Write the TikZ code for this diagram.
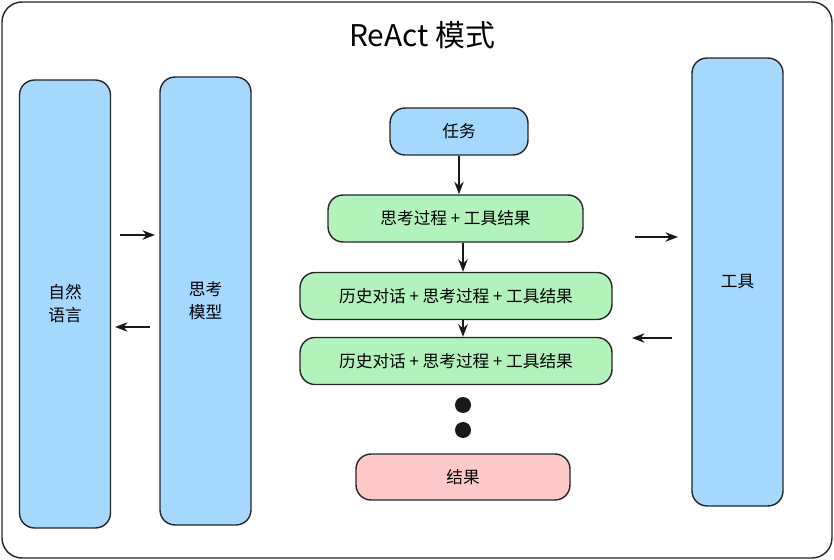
\documentclass[tikz,border=0pt]{standalone}
\usepackage{fontspec}
\setmainfont{Noto Sans CJK SC}
\usepackage{tikz}
\usetikzlibrary{positioning}
\usetikzlibrary{arrows.meta}
\definecolor{skyblue}{HTML}{A5D8FF}
\definecolor{mint}{HTML}{B2F2BB}
\definecolor{rose}{HTML}{FFC9C9}
\tikzset{
  box/.style     = { rectangle, draw=black!85, thick, rounded corners=3mm, inner sep=0pt, font=\fontsize{9.5}{13}\selectfont },
  column/.style  = { box, fill=skyblue, minimum width=1.82cm, minimum height=8.96cm, align=center },
  stage/.style   = { box, fill=mint, minimum height=0.94cm },
  flow/.style    = { -{Stealth[length=2.5mm]}, line width=1.5pt, black!90 },
}
\begin{document}
\begin{tikzpicture}[x=0.02cm,y=-0.02cm]
  \useasboundingbox (0,0) rectangle (834,560);
  \draw [thick,black!85,rounded corners=4mm] (2,2) rectangle (832,558);
  \node (title) at (422,35) {\fontsize{17}{20}\selectfont ReAct 模式};

  \node (lang)  [column] at (65,304)    {自然\\语言};
  \node (model) [column] at (205.5,301) {思考\\模型};
  \node (tool)  [column] at (737.5,282) {工具};

  \node (task)   [box,fill=skyblue,minimum width=2.76cm,minimum height=0.94cm] at (459,131.5) {任务};
  \node (stage1) [stage,minimum width=5.1cm]  at (455.5,218.5) {思考过程 + 工具结果};
  \node (stage2) [stage,minimum width=6.24cm] at (456,296)     {历史对话 + 思考过程 + 工具结果};
  \node (stage3) [stage,minimum width=6.24cm] at (456,361)     {历史对话 + 思考过程 + 工具结果};
  \node (res)    [box,fill=rose,minimum width=4.28cm,minimum height=0.92cm] at (463,477) {结果};

  \fill [black!90] (463,405) circle (8);
  \fill [black!90] (463,430) circle (8);

  \draw [flow] (task) -- (stage1.north -| task);
  \draw [flow] ([xshift=0.14cm]stage1.south -| stage2) -- ([xshift=0.14cm]stage2.north);
  \draw [flow] ([xshift=0.14cm]stage2.south) -- ([xshift=0.14cm]stage3.north);

  \coordinate (a1) at (120,235); \coordinate (a2) at (155,235);
  \coordinate (b1) at (150,327); \coordinate (b2) at (115,327);
  \coordinate (c1) at (635,237); \coordinate (c2) at (678,237);
  \coordinate (d1) at (672,338); \coordinate (d2) at (632,338);
  \draw [flow] (a1) -- (a2);
  \draw [flow] (b1) -- (b2);
  \draw [flow] (c1) -- (c2);
  \draw [flow] (d1) -- (d2);
\end{tikzpicture}
\end{document}
